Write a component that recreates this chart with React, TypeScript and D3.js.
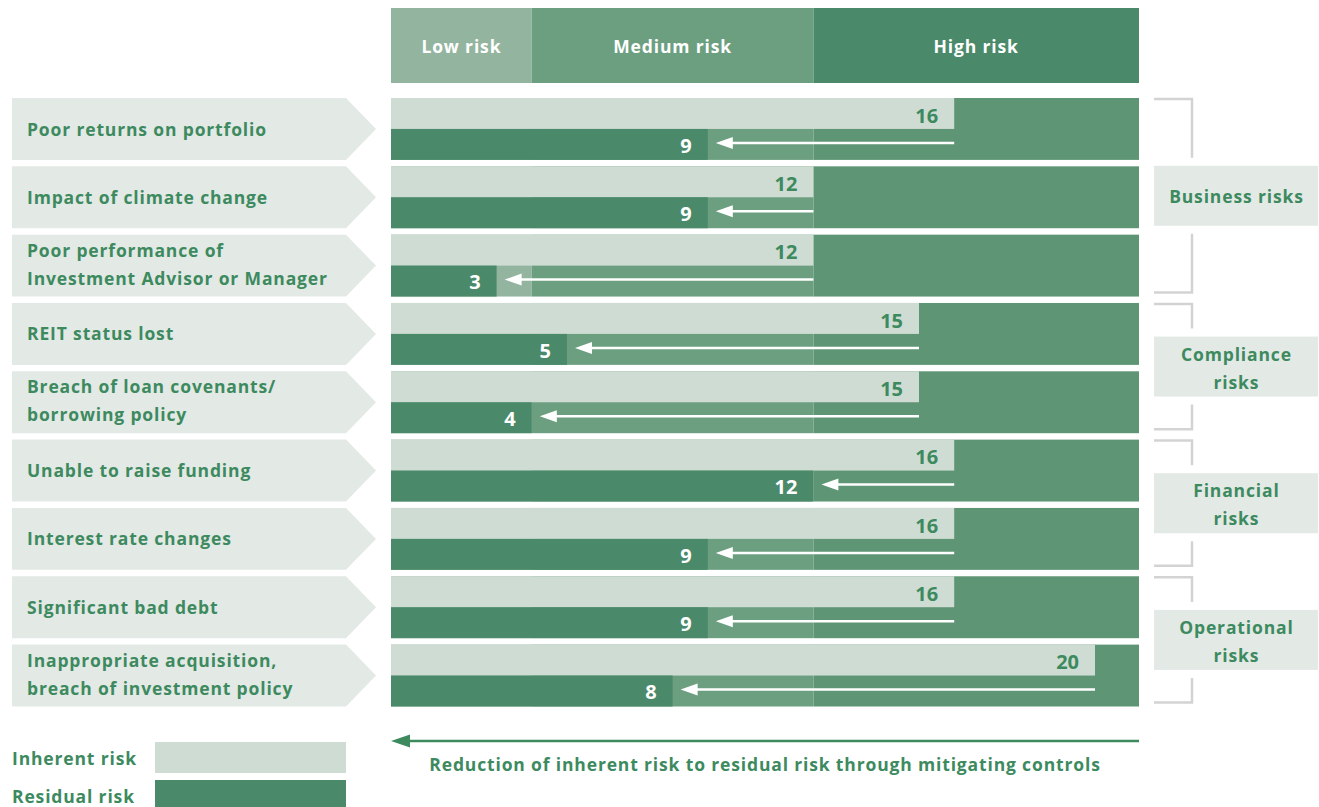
import React from "react";
import * as d3 from "d3";

const riskLabels: string[][] = [
  ["Poor returns on portfolio"],
  ["Impact of climate change"],
  ["Poor performance of", "Investment Advisor or Manager"],
  ["REIT status lost"],
  ["Breach of loan covenants/", "borrowing policy"],
  ["Unable to raise funding"],
  ["Interest rate changes"],
  ["Significant bad debt"],
  ["Inappropriate acquisition,", "breach of investment policy"],
];
const inherentValues = [16, 12, 12, 15, 15, 16, 16, 16, 20];
const residualValues = [9, 9, 3, 5, 4, 12, 9, 9, 8];

const zoneNames = ["Low risk", "Medium risk", "High risk"];
const zoneBounds = [0, 4, 12, 21.25];

const groupNames: string[][] = [["Business risks"], ["Compliance", "risks"], ["Financial", "risks"], ["Operational", "risks"]];
const groupStart = [0, 3, 5, 7];
const groupEnd = [2, 4, 6, 8];

const legendNames = ["Inherent risk", "Residual risk"];
const footerText = "Reduction of inherent risk to residual risk through mitigating controls";

const W = 1319;
const H = 807;
const FONT = "'Open Sans', sans-serif";
const LS = 0.85;
const GREEN_TEXT = "#3d8a5f";
const INHERENT = "#cfdcd3";
const RESIDUAL = "#4a8a6a";
const LABEL_BG = "#e3e9e5";
const HEADER_COLORS = ["#93b5a0", "#6c9f80", "#4a8a6a"];
const ROW_ZONE_COLORS = ["#93b5a0", "#6c9f80", "#5e9574"];
const BRACKET = "#d3d3d3";

export default function App() {
  const x = d3.scaleLinear().domain([zoneBounds[0], zoneBounds[3]]).range([391, 1139]);
  const idx = d3.range(riskLabels.length).map(String);
  const y = d3.scaleBand<string>().domain(idx).range([98, 706.5]).paddingInner(0.094).paddingOuter(0);
  const bw = y.bandwidth();
  const half = bw / 2;

  return (
    <svg width={W} height={H} style={{ position: "absolute", left: 0, top: 0, display: "block" }} fontFamily={FONT}>
      {/* header */}
      {zoneNames.map((z, i) => (
        <g key={z}>
          <rect x={x(zoneBounds[i])} y={8} width={x(zoneBounds[i + 1]) - x(zoneBounds[i])} height={75} fill={HEADER_COLORS[i]} />
          <text x={(x(zoneBounds[i]) + x(zoneBounds[i + 1])) / 2} y={53} textAnchor="middle" fill="#fff" fontWeight={700} fontSize={17.5} letterSpacing={LS}>
            {z}
          </text>
        </g>
      ))}

      {/* rows */}
      {riskLabels.map((lab, i) => {
        const top = y(String(i)) as number;
        const inh = inherentValues[i];
        const res = residualValues[i];
        const arrowY = top + half + 14;
        const tipX = x(res) + 8;
        return (
          <g key={i}>
            <path d={`M12,${top}H346L376,${top + half}L346,${top + bw}H12Z`} fill={LABEL_BG} />
            {lab.map((l, j) => (
              <text key={j} x={27} y={lab.length === 1 ? top + 37.5 : top + 22 + j * 28} fill={GREEN_TEXT} fontWeight={700} fontSize={17.5} letterSpacing={LS}>
                {l}
              </text>
            ))}
            {zoneNames.map((z, k) => (
              <rect key={z} x={x(zoneBounds[k])} y={top} width={x(zoneBounds[k + 1]) - x(zoneBounds[k])} height={bw} fill={ROW_ZONE_COLORS[k]} />
            ))}
            <rect x={x(0)} y={top} width={x(inh) - x(0)} height={half} fill={INHERENT} />
            <rect x={x(0)} y={top + half} width={x(res) - x(0)} height={bw - half} fill={RESIDUAL} />
            <text x={x(inh) - 16} y={top + 24.7} textAnchor="end" fill={GREEN_TEXT} fontWeight={700} fontSize={20}>
              {inh}
            </text>
            <text x={x(res) - 16} y={top + 54.7} textAnchor="end" fill="#fff" fontWeight={700} fontSize={20}>
              {res}
            </text>
            <line x1={x(inh)} x2={tipX + 12} y1={arrowY} y2={arrowY} stroke="#fff" strokeWidth={2.5} />
            <path d={`M${tipX},${arrowY}L${tipX + 17},${arrowY - 6}L${tipX + 17},${arrowY + 6}Z`} fill="#fff" />
          </g>
        );
      })}

      {/* groups */}
      {groupNames.map((g, i) => {
        const top = (y(String(groupStart[i])) as number) + 1;
        const bottom = (y(String(groupEnd[i])) as number) + bw - 4;
        const c = (top + bottom) / 2;
        const bTop = c - 30;
        const bBot = c + 30;
        return (
          <g key={i}>
            <path d={`M1154,${top}H1192V${bTop - 8}`} fill="none" stroke={BRACKET} strokeWidth={2.5} />
            <path d={`M1192,${bBot + 8}V${bottom}H1154`} fill="none" stroke={BRACKET} strokeWidth={2.5} />
            <rect x={1154} y={bTop} width={164} height={60} fill={LABEL_BG} />
            {g.map((t, j) => (
              <text key={j} x={1236 + LS / 2} y={g.length === 1 ? c + 7 : c - 6 + j * 28} textAnchor="middle" fill={GREEN_TEXT} fontWeight={700} fontSize={17.5} letterSpacing={LS}>
                {t}
              </text>
            ))}
          </g>
        );
      })}

      {/* legend */}
      {legendNames.map((n, i) => (
        <g key={n}>
          <text x={12} y={765 + i * 38} fill={GREEN_TEXT} fontWeight={700} fontSize={17.5} letterSpacing={LS}>
            {n}
          </text>
          <rect x={155} y={742 + i * 38} width={191} height={31} fill={i === 0 ? INHERENT : RESIDUAL} />
        </g>
      ))}

      {/* footer arrow */}
      <line x1={x(zoneBounds[3])} x2={x(0) + 14} y1={741} y2={741} stroke={GREEN_TEXT} strokeWidth={2.5} />
      <path d={`M${x(0)},741L${x(0) + 19},734.5L${x(0) + 19},747.5Z`} fill={GREEN_TEXT} />
      <text x={(x(0) + x(zoneBounds[3])) / 2} y={771} textAnchor="middle" fill={GREEN_TEXT} fontWeight={700} fontSize={17.5} letterSpacing={LS}>
        {footerText}
      </text>
    </svg>
  );
}
